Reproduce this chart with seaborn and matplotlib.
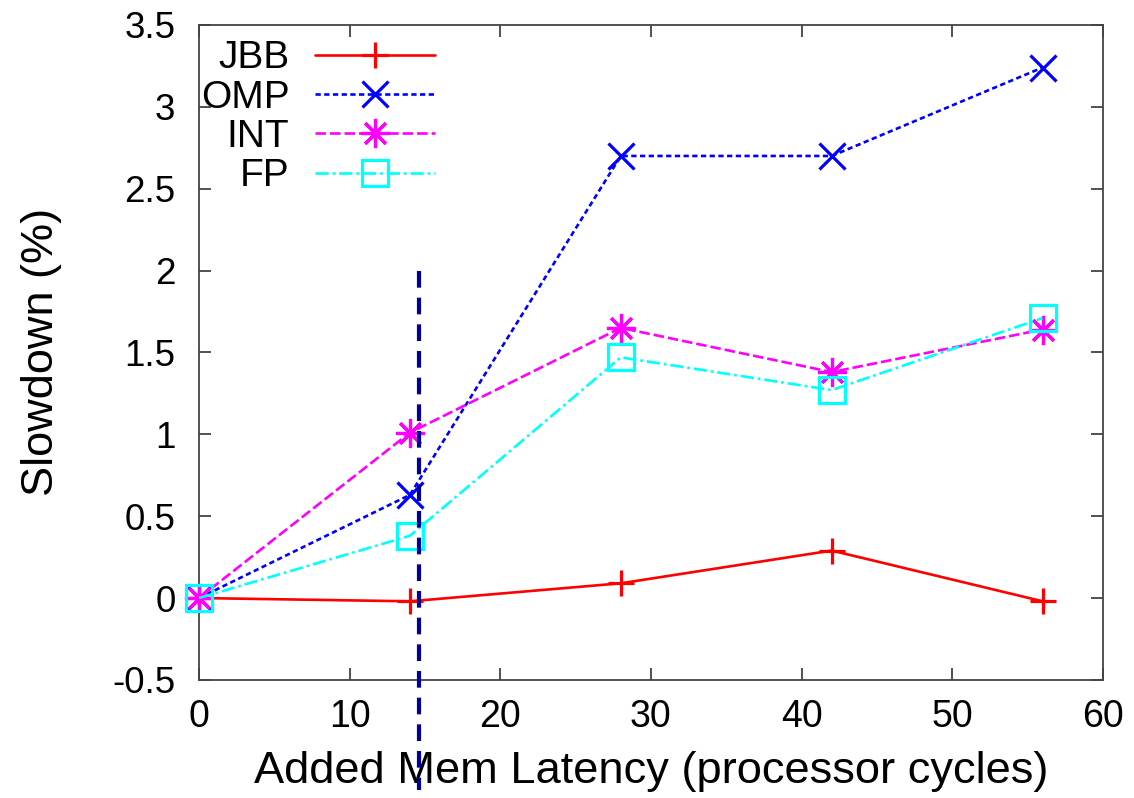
import matplotlib
matplotlib.use("Agg")
import matplotlib.pyplot as plt
import seaborn as sns
import pandas as pd

# ---- data ----
latency = [0, 14, 28, 42, 56]
jbb = [0.0, -0.02, 0.09, 0.29, -0.02]
omp = [0.0, 0.63, 2.70, 2.70, 3.24]
int_ = [0.0, 1.01, 1.65, 1.38, 1.64]
fp = [0.0, 0.38, 1.47, 1.27, 1.71]
series_names = ["JBB", "OMP", "INT", "FP"]
xticks = [0, 10, 20, 30, 40, 50, 60]
yticks = [-0.5, 0, 0.5, 1, 1.5, 2, 2.5, 3, 3.5]
ytick_labels = ["-0.5", "0", "0.5", "1", "1.5", "2", "2.5", "3", "3.5"]
marker_x = 14.6
marker_y_top = 2.0
marker_y_bottom = -1.17

sns.set_style("ticks")
plt.rcParams["font.family"] = ["Liberation Sans", "DejaVu Sans"]
plt.rcParams["text.color"] = "black"
plt.rcParams["axes.labelcolor"] = "black"

fig = plt.figure(figsize=(11.34, 7.98), dpi=100)
ax = fig.add_axes([0.1755, 0.148, 0.797, 0.8207])

values = [jbb, omp, int_, fp]
colors = ["#ff0000", "#0000ff", "#ff00ff", "#00ffff"]
markers = ["+", "x", (8, 2, 0), "s"]
msizes = [19, 19, 21, 19]
styles = ["-", (0, (2, 1.3)), (0, (4, 1.5)), (0, (5, 1.5, 1, 1.5))]

for name, vals, c, m, ms, ls in zip(series_names, values, colors, markers, msizes, styles):
    df = pd.DataFrame({"x": latency, "y": vals})
    sns.lineplot(data=df, x="x", y="y", ax=ax, color=c, marker=m, markersize=ms,
                 markeredgecolor=c, markerfacecolor="none", markeredgewidth=2.3,
                 linestyle=ls, linewidth=1.9, label=name, clip_on=False, zorder=3)

ax.plot([marker_x, marker_x], [marker_y_top, marker_y_bottom], color="#000099",
        linewidth=3, linestyle=(0, (4, 2.4)), clip_on=False, zorder=5)

ax.set_xlim(0, 60)
ax.set_ylim(-0.5, 3.5)
ax.set_xticks(xticks)
ax.set_yticks(yticks)
ax.set_yticklabels(ytick_labels)
ax.tick_params(direction="in", length=8.5, width=1.2, top=True, right=True,
               colors="#333333", labelcolor="black")
ax.tick_params(axis="x", labelsize=27, pad=14)
ax.tick_params(axis="y", labelsize=26.5, pad=17)
for s in ax.spines.values():
    s.set_linewidth(1.3)
    s.set_color("#444444")
ax.set_xlabel("Added Mem Latency (processor cycles)", fontsize=32.6, labelpad=11)
ax.set_ylabel("Slowdown (%)", fontsize=32.5, labelpad=36)

leg = ax.legend(loc="upper left", bbox_to_anchor=(-0.024, 1.012), frameon=False,
                markerfirst=False, fontsize=28, handlelength=3.1, handletextpad=0.65,
                labelspacing=0.085, borderaxespad=0.2)

fig.savefig("out.png", dpi=100)
